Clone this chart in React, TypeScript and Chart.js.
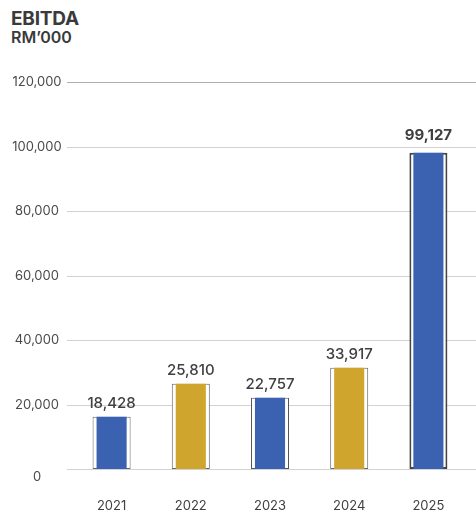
import React, { useEffect, useRef } from "react";
import { Chart, registerables } from "chart.js";

Chart.register(...registerables);

const years = ["2021", "2022", "2023", "2024", "2025"];
// bar heights as drawn in the reference (RM'000)
const barValues = [16200, 26450, 22100, 31400, 98100];
// value labels printed above the bars
const valueLabels = ["18,428", "25,810", "22,757", "33,917", "99,127"];
const barColors = ["#3a62b0", "#cfa52e", "#3a62b0", "#cfa52e", "#3a62b0"];
const yTickLabels = ["0", "20,000", "40,000", "60,000", "80,000", "100,000", "120,000"];

const FONT = "Inter, 'Open Sans', sans-serif";

export default function App() {
  const ref = useRef<HTMLCanvasElement | null>(null);

  useEffect(() => {
    document.body.style.margin = "0";
    const canvas = ref.current;
    if (!canvas) return;

    const overlay = {
      id: "overlay",
      beforeDatasetsDraw(chart: any) {
        const ctx = chart.ctx;
        const y = chart.scales.y;
        ctx.save();
        y.ticks.forEach((t: any, i: number) => {
          const py = Math.round(y.getPixelForValue(t.value)) + 0.5;
          ctx.strokeStyle = i === y.ticks.length - 1 ? "#b0b0b0" : "#d2d2d2";
          ctx.lineWidth = 1;
          ctx.beginPath();
          ctx.moveTo(67, py);
          ctx.lineTo(chart.width, py);
          ctx.stroke();
          ctx.fillStyle = "#4a4a4a";
          ctx.font = `400 13px ${FONT}`;
          ctx.textAlign = "center";
          ctx.textBaseline = "middle";
          ctx.fillText(yTickLabels[i] ?? String(t.value), 37, py + (t.value === 0 ? 8 : 0));
        });
        ctx.restore();
      },
      afterDatasetsDraw(chart: any) {
        const ctx = chart.ctx;
        const meta = chart.getDatasetMeta(1);
        ctx.save();
        meta.data.forEach((el: any, i: number) => {
          const last = i === valueLabels.length - 1;
          ctx.fillStyle = "#404040";
          ctx.font = `${last ? 700 : 500} 15px ${FONT}`;
          ctx.textAlign = "center";
          ctx.textBaseline = "middle";
          ctx.fillText(valueLabels[i], el.x, el.y - (last ? 17 : 13));
        });
        ctx.restore();
      },
    };

    const chart = new Chart(canvas, {
      type: "bar",
      data: {
        labels: years,
        datasets: [
          {
            data: barValues,
            backgroundColor: barColors,
            borderWidth: 0,
            barPercentage: 0.38,
            categoryPercentage: 1,
            grouped: false,
            order: 0,
          } as any,
          {
            data: barValues,
            backgroundColor: "#ffffff",
            borderColor: ["#666", "#666", "#555", "#666", "#444"],
            borderWidth: [1, 1, 1, 1, 2],
            borderSkipped: false,
            barPercentage: 0.48,
            categoryPercentage: 1,
            grouped: false,
            order: 1,
          } as any,
        ],
      },
      options: {
        animation: false,
        responsive: false,
        maintainAspectRatio: false,
        layout: { padding: { top: 82, right: 8, left: 0, bottom: 0 } },
        plugins: {
          legend: { display: false },
          tooltip: { enabled: false },
          title: { display: false },
        },
        scales: {
          x: {
            grid: { display: false },
            border: { display: false },
            ticks: {
              padding: 21,
              color: "#404040",
              font: { family: FONT, size: 13, weight: 400 as any },
            },
            afterFit: (s: any) => {
              s.height = 42;
            },
          },
          y: {
            min: 0,
            max: 120000,
            grid: { display: false },
            border: { display: false },
            ticks: { stepSize: 20000, display: false },
            afterFit: (s: any) => {
              s.width = 72;
            },
          },
        },
      },
      plugins: [overlay],
    });

    return () => chart.destroy();
  }, []);

  return (
    <div style={{ position: "fixed", left: 0, top: 0, width: 476, height: 511, background: "#fff" }}>
      <div
        style={{
          position: "absolute",
          left: 11,
          top: 8,
          fontFamily: FONT,
          fontWeight: 700,
          fontSize: 19,
          lineHeight: "22px",
          color: "#3a3a3a",
          letterSpacing: "-0.2px",
        }}
      >
        EBITDA
      </div>
      <div
        style={{
          position: "absolute",
          left: 11,
          top: 28,
          fontFamily: FONT,
          fontWeight: 600,
          fontSize: 16,
          lineHeight: "18px",
          color: "#3a3a3a",
        }}
      >
        RM’000
      </div>
      <canvas ref={ref} width={476} height={511} style={{ position: "absolute", left: 0, top: 0 }} />
    </div>
  );
}
